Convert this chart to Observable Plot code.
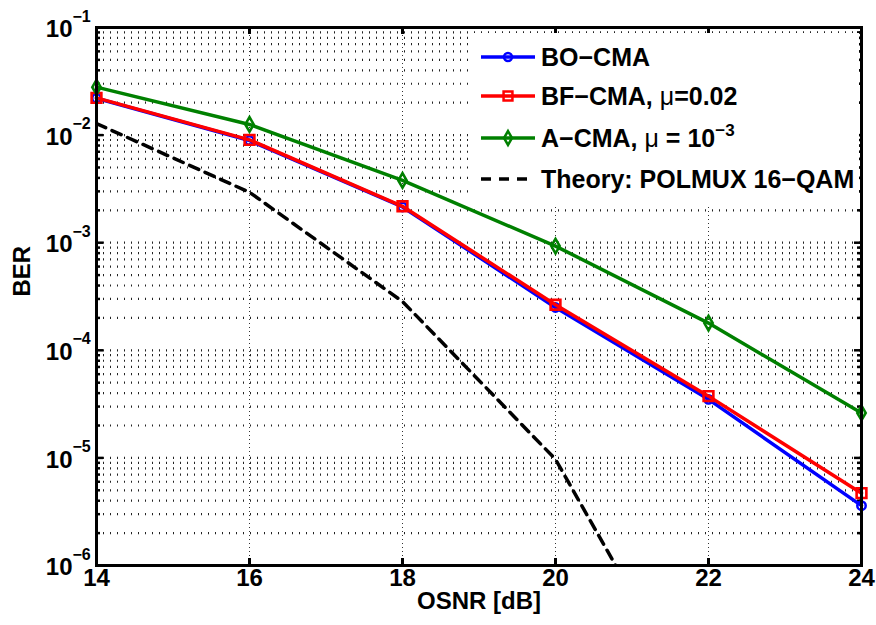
<!DOCTYPE html>
<html><head><meta charset="utf-8">
<script src="https://cdn.jsdelivr.net/npm/d3@7"></script>
<script src="https://cdn.jsdelivr.net/npm/@observablehq/plot@0.6"></script>
<style>
body{margin:0;background:#fff;}
#wrap{position:relative;width:876px;height:625px;font-family:"Liberation Sans",Arial,sans-serif;font-weight:bold;}
#legend{position:absolute;left:470px;top:33px;width:389px;height:173px;background:#fff;overflow:hidden;}
</style></head><body><div id="wrap"><div id="legend"></div></div>
<script>
// ---- data ----
const osnr = [14, 16, 18, 20, 22, 24];
const berBO = [2.2e-2, 8.9e-3, 2.15e-3, 2.5e-4, 3.5e-5, 3.6e-6];
const berBF = [2.22e-2, 9.04e-3, 2.18e-3, 2.65e-4, 3.75e-5, 4.7e-6];
const berA  = [2.79e-2, 1.256e-2, 3.79e-3, 9.3e-4, 1.79e-4, 2.62e-5];
const osnrTheory = [14, 16, 18, 20, 22];
const berTheory  = [1.28e-2, 2.94e-3, 2.84e-4, 9.7e-6, 3e-8];
const xTicks = [14, 16, 18, 20, 22, 24];
const yExponents = [-1, -2, -3, -4, -5, -6];
const minorMultipliers = [2, 3, 4, 5, 6, 7, 8, 9];
const seriesNames = ["BO−CMA", "BF−CMA, ", "A−CMA, ", "Theory: POLMUX 16−QAM"];
const seriesColors = ["#0000ff", "#ff0000", "#008000", "#000000"];
const xLabel = "OSNR [dB]";
const yLabel = "BER";

// ---- derived tables ----
const W = 876, H = 625, mL = 96, mR = 15, mT = 27, mB = 60;
const fW = W - mL - mR, fH = H - mT - mB;
const majorY = yExponents.map(e => 10 ** e);
const minorY = [];
yExponents.slice(1).forEach(e => minorMultipliers.forEach(m => minorY.push(m * 10 ** e)));
const allY = majorY.concat(minorY);
const tab = ys => osnr.map((x, i) => ({x, y: ys[i]}));
const bo = tab(berBO), bf = tab(berBF), ac = tab(berA);
const th = osnrTheory.map((x, i) => ({x, y: berTheory[i]}));

const chart = Plot.plot({
  width: W, height: H,
  marginLeft: mL, marginRight: mR, marginTop: mT, marginBottom: mB,
  style: {fontFamily: "'Liberation Sans', Arial, sans-serif", fontWeight: "bold", background: "#fff", overflow: "visible"},
  x: {domain: [14, 24], axis: null},
  y: {type: "log", domain: [1e-6, 1e-1], axis: null},
  marks: [
    // grid
    Plot.ruleY(allY, {y: d => d, stroke: "#222", strokeWidth: 2.2, strokeDasharray: "1,6"}),
    Plot.ruleX(xTicks.slice(1, -1), {x: d => d, stroke: "#333", strokeWidth: 1, strokeDasharray: "1,3"}),
    // inward ticks
    Plot.ruleX(xTicks, {x: d => d, insetTop: fH - 7, stroke: "#000", strokeWidth: 3}),
    Plot.ruleX(xTicks, {x: d => d, insetBottom: fH - 7, stroke: "#000", strokeWidth: 3}),
    Plot.ruleY(majorY, {y: d => d, insetRight: fW - 7, stroke: "#000", strokeWidth: 2.5}),
    Plot.ruleY(majorY, {y: d => d, insetLeft: fW - 7, stroke: "#000", strokeWidth: 2.5}),
    Plot.ruleY(minorY, {y: d => d, insetRight: fW - 4, stroke: "#000", strokeWidth: 2.5}),
    Plot.ruleY(minorY, {y: d => d, insetLeft: fW - 4, stroke: "#000", strokeWidth: 2.5}),
    // series
    Plot.line(bo, {x: "x", y: "y", stroke: seriesColors[0], strokeWidth: 3.5}),
    Plot.dot(bo, {x: "x", y: "y", symbol: "circle", r: 4.2, stroke: seriesColors[0], strokeWidth: 2.5, fill: "none"}),
    Plot.line(bf, {x: "x", y: "y", stroke: seriesColors[1], strokeWidth: 3.5}),
    Plot.dot(bf, {x: "x", y: "y", symbol: "square", r: 5.5, stroke: seriesColors[1], strokeWidth: 2.6, fill: "none"}),
    Plot.line(ac, {x: "x", y: "y", stroke: seriesColors[2], strokeWidth: 3.5}),
    Plot.dot(ac, {x: "x", y: "y", symbol: "diamond", r: 4.4, stroke: seriesColors[2], strokeWidth: 2.6, fill: "none"}),
    Plot.line(th, {x: "x", y: "y", stroke: seriesColors[3], strokeWidth: 3.5, strokeDasharray: "10,7", clip: true}),
    Plot.frame({stroke: "#000", strokeWidth: 3}),
    // tick labels
    Plot.text(xTicks, {x: d => d, text: d => String(d), frameAnchor: "bottom", dy: 20, fontSize: 24, fill: "#000"}),
    Plot.text(yExponents, {y: e => 10 ** e, text: () => "10", frameAnchor: "left", textAnchor: "end", dx: -24, dy: 2, fontSize: 24, fill: "#000"}),
    Plot.text(yExponents, {y: e => 10 ** e, text: e => "−" + (-e), frameAnchor: "left", textAnchor: "start", dx: -24, dy: -11, fontSize: 16, fill: "#000"}),
    // axis titles
    Plot.text([xLabel], {text: d => d, frameAnchor: "bottom", dy: 43, fontSize: 24, fill: "#000"}),
    Plot.text([yLabel], {text: d => d, frameAnchor: "left", dx: -74, rotate: -90, fontSize: 24, fill: "#000"})
  ]
});
document.getElementById("wrap").insertBefore(chart, document.getElementById("legend"));

// ---- legend ----
const lg = d3.select("#legend").append("svg").attr("width", 389).attr("height", 173)
  .style("font-family", "'Liberation Sans', Arial, sans-serif").style("font-weight", "bold");
const rowsY = [24, 63, 105, 146];
const symbols = [d3.symbolCircle, d3.symbolSquare, d3.symbolDiamond, null];
const symR = [4, 5, 4.2];
seriesNames.forEach((name, i) => {
  const g = lg.append("g").attr("transform", `translate(0,${rowsY[i]})`);
  g.append("line").attr("x1", 11).attr("x2", 65).attr("y1", 0).attr("y2", 0)
    .attr("stroke", seriesColors[i]).attr("stroke-width", 3.5)
    .attr("stroke-dasharray", i === 3 ? "10,8" : null);
  if (symbols[i]) {
    g.append("path").attr("transform", "translate(38,0)")
      .attr("d", d3.symbol(symbols[i], Math.PI * symR[i] * symR[i])())
      .attr("fill", "none").attr("stroke", seriesColors[i]).attr("stroke-width", 2.5);
  }
  const t = g.append("text").attr("x", 71).attr("y", 9).attr("font-size", 25).attr("fill", "#000").text(name);
  if (i === 1) {
    t.append("tspan").attr("font-weight", "normal").text("μ");
    t.append("tspan").text("=0.02");
  }
  if (i === 2) {
    t.append("tspan").attr("font-weight", "normal").text("μ");
    t.append("tspan").text(" = 10");
    t.append("tspan").attr("font-size", 17).attr("dy", -11).text("−3");
  }
});
</script></body></html>
